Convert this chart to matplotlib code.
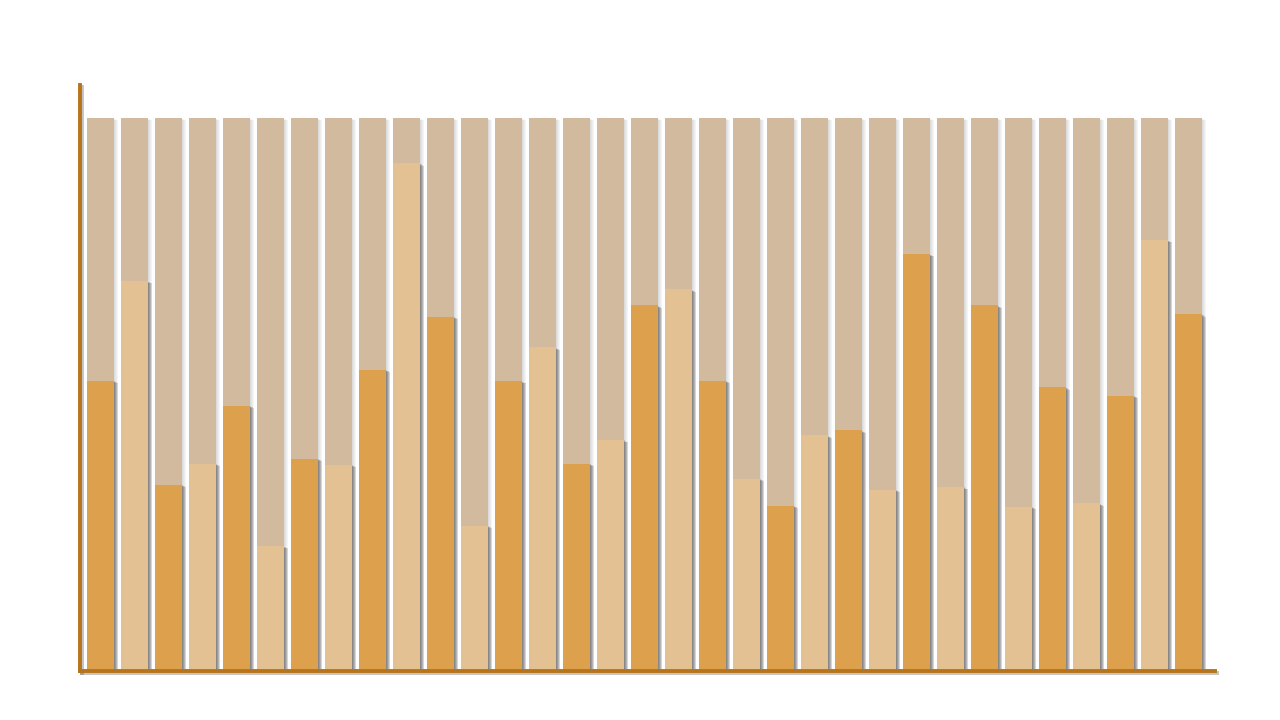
import matplotlib
matplotlib.use("Agg")
import matplotlib.pyplot as plt
import matplotlib.patheffects as pe
import numpy as np

values = [52.5, 70.5, 33.7, 37.5, 48.0, 22.6, 38.4, 37.3, 54.5, 91.8, 64.1,
          26.3, 52.4, 58.5, 37.5, 41.8, 66.1, 69.0, 52.5, 34.8, 29.9, 42.6,
          43.5, 32.8, 75.4, 33.3, 66.1, 29.7, 51.3, 30.3, 49.8, 77.9, 64.5]
background = [100.0] * len(values)

dark = "#DDA04D"
light = "#E3C193"
bg_color = "#D1BA9E"
axis_color = "#B8741A"

fig = plt.figure(figsize=(12.8, 7.2), dpi=100)
ax = fig.add_axes([80 / 1280, (720 - 671) / 720, (1215 - 80) / 1280, (671 - 85) / 720])

x = np.arange(len(values))
w = 27 / 34


def soft_shadow(color, alpha, steps=4, dx=0.75):
    effs = []
    for k in range(steps, 0, -1):
        effs.append(pe.SimplePatchShadow(offset=(dx * k, -0.4 * k), shadow_rgbFace=color, alpha=alpha))
    effs.append(pe.Normal())
    return effs


bgb = ax.bar(x, background, width=w, color=bg_color, zorder=1)
for b in bgb:
    b.set_path_effects(soft_shadow("#888888", 0.08))

colors = [dark if i % 2 == 0 else light for i in range(len(values))]
fb = ax.bar(x, values, width=w, color=colors, zorder=2)
for b in fb:
    b.set_path_effects(soft_shadow("#444444", 0.18))

ax.set_xlim((80 - 100) / 34, (1215 - 100) / 34)
ax.set_ylim(0, (671 - 85) / 5.53)

for s in ["top", "right"]:
    ax.spines[s].set_visible(False)
for s in ["left", "bottom"]:
    ax.spines[s].set_color(axis_color)
    ax.spines[s].set_linewidth(2.8)
    ax.spines[s].set_zorder(5)
    ax.spines[s].set_path_effects([pe.SimpleLineShadow(offset=(1.5, -1.5), shadow_color="#555555", alpha=0.35), pe.Normal()])
ax.set_xticks([])
ax.set_yticks([])
ax.patch.set_alpha(0)

fig.savefig("out.png", dpi=100)
